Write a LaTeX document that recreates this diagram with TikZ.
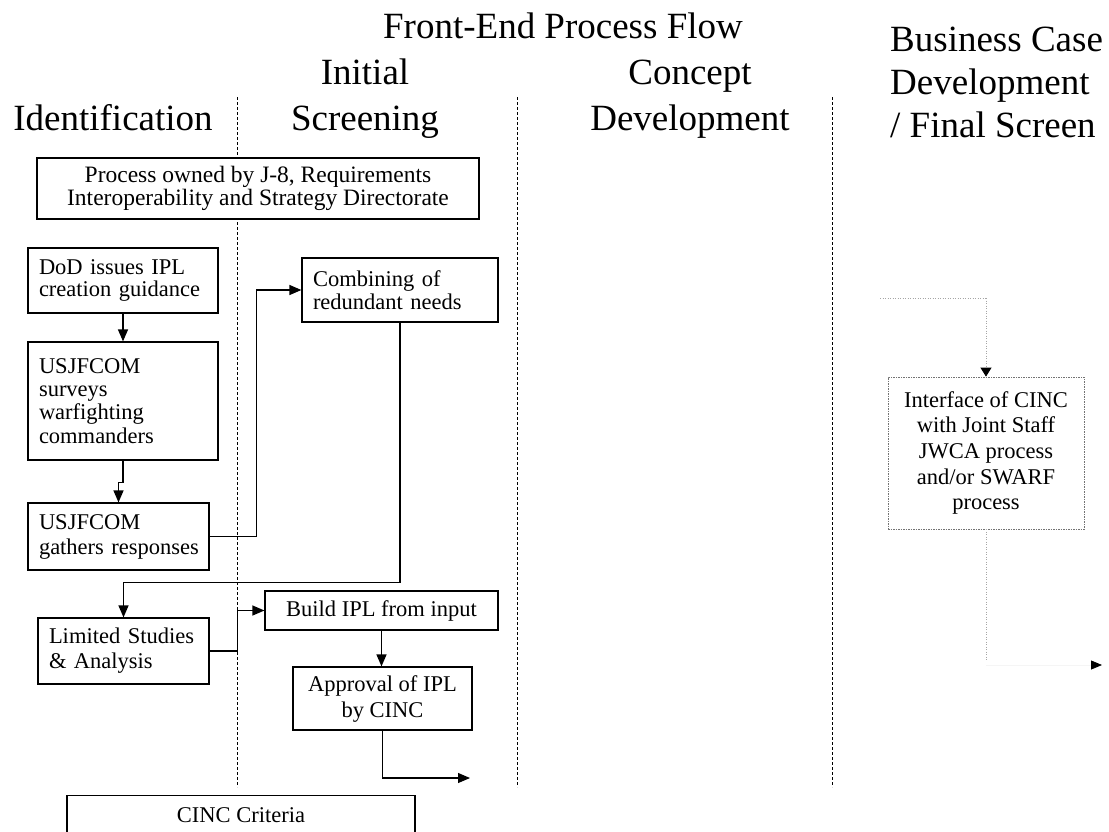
\documentclass[tikz,border=0pt]{standalone}
\usepackage{fontspec}
\setmainfont{Liberation Serif}
\usetikzlibrary{arrows.meta}
\newcommand\hfnt{\fontsize{37}{42}\selectfont}
\newcommand\bfnt[1]{\fontsize{22.5}{#1}\selectfont\hyphenpenalty=10000 }
\tikzset{
  box/.style={draw, line width=1.2pt, fill=white, inner xsep=11pt, inner ysep=0pt},
  lbox/.style={box, align=left},
  cbox/.style={box, align=center},
  hdr/.style={font=\hfnt, inner sep=0pt, anchor=base},
  conn/.style={line width=1.2pt},
  arr/.style={conn, -{Triangle[length=12pt,width=10pt]}},
  sepline/.style={line width=1pt, dash pattern=on 3pt off 2pt},
  faint/.style={line width=0.8pt, black!35, dash pattern=on 1pt off 1.5pt},
  faintarr/.style={faint, -{Triangle[length=9pt,width=11pt,color=black]}}
}
\begin{document}
\begin{tikzpicture}[x=1pt,y=-1pt]
\useasboundingbox (0,0) rectangle (1109,831);
\clip (0,0) rectangle (1109,831);

% headers
\node[hdr] (title) at (563,38) {Front-End Process Flow};
\node[hdr] (hid) at (113,130) {Identification};
\node[hdr] (hin1) at (365,84) {Initial};
\node[hdr] (hin2) at (365,130) {Screening};
\node[hdr] (hco1) at (690,84) {Concept};
\node[hdr] (hco2) at (690,130) {Development};
\node[hdr, anchor=base west] (hbu1) at (890,51) {Business Case};
\node[hdr, anchor=base west] (hbu2) at (890,94) {Development};
\node[hdr, anchor=base west] (hbu3) at (890,137) {/ Final Screen};

% separators
\coordinate (s1t) at (237,97); \coordinate (s1b) at (237,787);
\coordinate (s2t) at (517,97); \coordinate (s2b) at (517,787);
\coordinate (s3t) at (832,97); \coordinate (s3b) at (832,787);
\draw[sepline] (s1t) -- (s1b);
\draw[sepline] (s2t) -- (s2b);
\draw[sepline] (s3t) -- (s3b);

% boxes
\node[cbox, font=\fontsize{23.5}{20.5}\selectfont, minimum width=442, minimum height=61] (proc) at (258,188.5)
  {Process owned by J-8, Requirements\\Interoperability and Strategy Directorate};
\node[lbox, font=\bfnt{22}, text width=168, minimum height=65] (dod) at (123,280.5)
  {DoD issues IPL\\creation guidance};
\node[lbox, font=\bfnt{23.3}, text width=168, minimum height=118] (surv) at (123,401)
  {USJFCOM\\surveys\\warfighting\\commanders};
\node[lbox, font=\bfnt{25}, text width=159, minimum height=67] (gath) at (118.5,536.5)
  {USJFCOM\\\mbox{gathers responses}};
\node[lbox, font=\bfnt{25}, text width=149, minimum height=66] (lim) at (123.5,651)
  {Limited Studies\\\& Analysis};
\node[lbox, font=\bfnt{23}, text width=174, minimum height=64] (comb) at (400,290)
  {Combining of\\redundant needs};
\node[cbox, font=\bfnt{23}, minimum width=233, minimum height=39] (build) at (381.5,610.5)
  {Build IPL from input};
\node[cbox, font=\bfnt{26}, minimum width=179, minimum height=63] (appr) at (382.5,698.5)
  {Approval of IPL\\by CINC};
\node[box, font=\bfnt{23}, anchor=north, minimum width=348, text height=27, text depth=45] (crit) at (241,795)
  {CINC Criteria};
\node[cbox, font=\bfnt{25.7}, draw=black!55, line width=0.8pt, dash pattern=on 1.5pt off 1pt,
  minimum width=196, minimum height=152] (intf) at (986,453)
  {Interface of CINC\\with Joint Staff\\JWCA process\\and/or SWARF\\process};

% connectors
\draw[arr] (dod.south) -- (surv.north);
\draw[arr] (surv.south) -- ++(0,22) -| (gath.north);
\draw[arr] (gath.east) -- ++(47,0) |- (comb.west);
\draw[arr] (comb.south) -- ++(0,260) -| (lim.north);
\draw[arr] (lim.east) -- ++(28,0) |- (build.west);
\draw[arr] (build.south) -- (build.south |- appr.north);
\coordinate (outA) at (470,778);
\draw[arr] (appr.south) |- (outA);

% right column faint connectors
\coordinate (fL) at (880,298);
\coordinate (fC) at (986,298);
\draw[faint] (fL) -- (fC);
\draw[faintarr] (fC) -- (intf.north);
\coordinate (fK) at (986,660);
\coordinate (oB) at (1102,665);
\draw[faint] (intf.south) -- (fK);
\draw[line width=0.8pt, black!4, -{Triangle[length=11pt,width=9pt,color=black]}] (fK |- oB) -- (oB);
\end{tikzpicture}
\end{document}
